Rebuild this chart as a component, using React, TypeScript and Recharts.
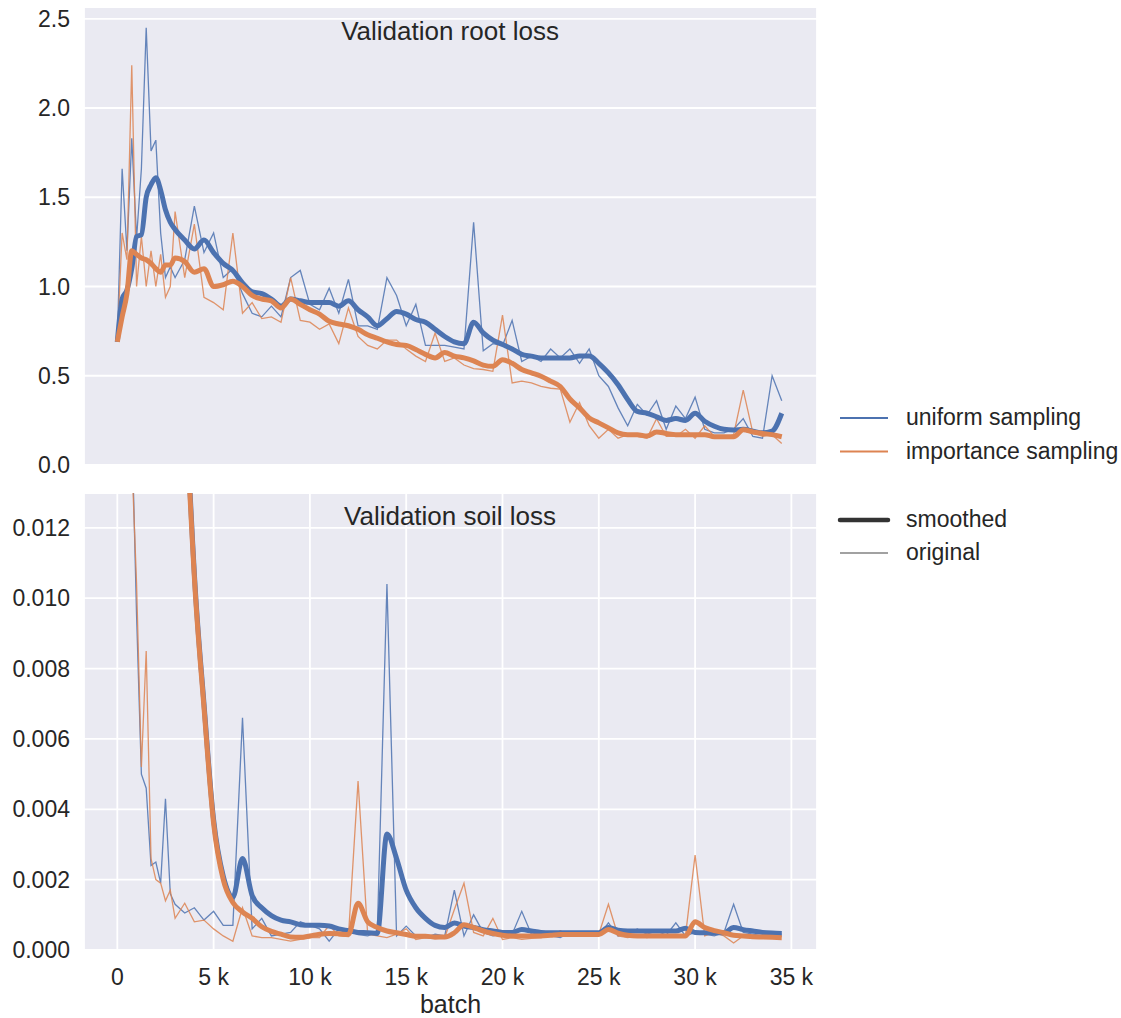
import React from 'react';
import { LineChart, Line, XAxis, YAxis, CartesianGrid, Label } from 'recharts';

const batches = [
  0, 250, 500, 750, 1000, 1250, 1500, 1750, 2000, 2250, 2500, 2750, 3000,
  3500, 4000, 4500, 5000, 5500, 6000, 6500, 7000, 7500, 8000, 8500, 9000, 9500,
  10000, 10500, 11000, 11500, 12000, 12500, 13000, 13500, 14000, 14500, 15000, 15500,
  16000, 16500, 17000, 17500, 18000, 18500, 19000, 19500, 20000, 20500, 21000, 21500,
  22000, 22500, 23000, 23500, 24000, 24500, 25000, 25500, 26000, 26500, 27000, 27500,
  28000, 28500, 29000, 29500, 30000, 30500, 31000, 31500, 32000, 32500, 33000, 33500, 34000, 34500,
];

const rootUniform = [
  0.70, 1.66, 1.20, 1.83, 1.27, 1.66, 2.45, 1.76, 1.82, 1.30, 1.05, 1.11, 1.05,
  1.15, 1.45, 1.19, 1.30, 1.05, 1.10, 0.96, 0.85, 0.83, 0.89, 0.83, 1.05, 1.09,
  0.90, 0.87, 0.99, 0.85, 1.04, 0.78, 0.78, 0.76, 1.05, 0.95, 0.78, 0.90,
  0.67, 0.67, 0.67, 0.66, 0.65, 1.36, 0.64, 0.68, 0.67, 0.81, 0.58, 0.61,
  0.58, 0.65, 0.60, 0.65, 0.57, 0.65, 0.50, 0.44, 0.32, 0.22, 0.34, 0.28,
  0.36, 0.20, 0.33, 0.26, 0.38, 0.20, 0.18, 0.18, 0.20, 0.26, 0.16, 0.15, 0.50, 0.36,
];
const rootUniformSmooth = [
  0.69, 0.93, 0.98, 1.10, 1.28, 1.29, 1.50, 1.57, 1.61, 1.54, 1.43, 1.36, 1.32,
  1.26, 1.21, 1.26, 1.19, 1.13, 1.09, 1.02, 0.97, 0.96, 0.93, 0.89, 0.93, 0.92,
  0.91, 0.91, 0.91, 0.89, 0.92, 0.87, 0.83, 0.78, 0.82, 0.86, 0.845, 0.815,
  0.80, 0.76, 0.72, 0.69, 0.68, 0.80, 0.74, 0.70, 0.675, 0.65, 0.62, 0.61,
  0.60, 0.60, 0.60, 0.60, 0.61, 0.61, 0.57, 0.516, 0.45, 0.367, 0.30, 0.29,
  0.27, 0.25, 0.26, 0.25, 0.29, 0.245, 0.217, 0.20, 0.196, 0.20, 0.19, 0.18, 0.19, 0.29,
];
const rootImportance = [
  0.70, 1.30, 1.15, 2.24, 1.00, 1.28, 1.00, 1.20, 1.00, 1.18, 0.94, 1.00, 1.42,
  1.05, 1.35, 0.94, 0.91, 0.87, 1.30, 0.85, 0.91, 0.82, 0.83, 0.80, 1.05, 0.81,
  0.80, 0.76, 0.79, 0.68, 0.88, 0.72, 0.67, 0.65, 0.70, 0.70, 0.65, 0.61,
  0.58, 0.74, 0.58, 0.60, 0.56, 0.54, 0.535, 0.525, 0.84, 0.46, 0.47, 0.46,
  0.44, 0.43, 0.425, 0.24, 0.35, 0.22, 0.15, 0.20, 0.15, 0.17, 0.16, 0.15,
  0.26, 0.16, 0.16, 0.20, 0.15, 0.22, 0.16, 0.15, 0.17, 0.42, 0.18, 0.16, 0.17, 0.12,
];
const rootImportanceSmooth = [
  0.69, 0.83, 0.96, 1.20, 1.18, 1.16, 1.15, 1.13, 1.10, 1.08, 1.12, 1.12, 1.16,
  1.14, 1.08, 1.10, 1.00, 1.01, 1.03, 1.00, 0.95, 0.93, 0.92, 0.88, 0.93, 0.90,
  0.87, 0.845, 0.805, 0.79, 0.78, 0.76, 0.73, 0.71, 0.69, 0.675, 0.67, 0.647,
  0.62, 0.60, 0.63, 0.61, 0.60, 0.583, 0.56, 0.553, 0.59, 0.57, 0.535, 0.516,
  0.497, 0.47, 0.44, 0.37, 0.32, 0.264, 0.236, 0.208, 0.18, 0.17, 0.17, 0.162,
  0.185, 0.177, 0.17, 0.17, 0.17, 0.17, 0.158, 0.158, 0.158, 0.198, 0.185, 0.177, 0.17, 0.158,
];

const soilUniform = [
  0.09, 0.05, 0.025, 0.015, 0.0095, 0.005, 0.0046, 0.0024, 0.0025, 0.0019, 0.0043, 0.0016, 0.0013,
  0.00105, 0.0012, 0.00085, 0.0011, 0.0007, 0.0007, 0.0066, 0.0006, 0.0009, 0.0004, 0.00045, 0.0005, 0.0008,
  0.0007, 0.0006, 0.00025, 0.0006, 0.00055, 0.00044, 0.0004, 0.0005, 0.0104, 0.0004, 0.00068, 0.0004,
  0.00035, 0.00045, 0.0004, 0.0017, 0.0004, 0.001, 0.0005, 0.0004, 0.00045, 0.00045, 0.0011, 0.00045,
  0.0004, 0.0004, 0.00035, 0.0005, 0.0004, 0.00045, 0.0004, 0.00077, 0.0004, 0.00045, 0.0006, 0.00045,
  0.00055, 0.00042, 0.00077, 0.0004, 0.0005, 0.00045, 0.0004, 0.0005, 0.0013, 0.0005, 0.00045, 0.0004, 0.00045, 0.00045,
];
const soilUniformSmooth = [
  0.25, 0.22, 0.19, 0.16, 0.135, 0.11, 0.09, 0.075, 0.062, 0.05, 0.041, 0.033, 0.027,
  0.0167, 0.0107, 0.007, 0.0037, 0.0021, 0.0015, 0.0026, 0.00155, 0.0012, 0.00098, 0.00085, 0.0008, 0.00072,
  0.0007, 0.0007, 0.00068, 0.0006, 0.00055, 0.0005, 0.00049, 0.00047, 0.0033, 0.0026, 0.0017, 0.0012,
  0.0009, 0.0007, 0.00064, 0.00077, 0.00068, 0.00064, 0.00058, 0.00054, 0.0005, 0.0005, 0.00058, 0.00054,
  0.0005, 0.00049, 0.00049, 0.00049, 0.00049, 0.00049, 0.00049, 0.00064, 0.00056, 0.00054, 0.00054, 0.00054,
  0.00054, 0.00054, 0.00054, 0.00062, 0.0005, 0.00049, 0.00049, 0.00049, 0.00064, 0.00058, 0.00054, 0.0005, 0.00048, 0.00047,
];
const soilImportance = [
  0.09, 0.05, 0.025, 0.014, 0.0104, 0.0052, 0.0085, 0.0026, 0.002, 0.0019, 0.0014, 0.0017, 0.0009,
  0.00133, 0.0008, 0.00085, 0.0006, 0.0004, 0.00025, 0.0012, 0.0004, 0.00035, 0.00035, 0.0003, 0.00025, 0.0003,
  0.00035, 0.00035, 0.0007, 0.0004, 0.00038, 0.0048, 0.00045, 0.0004, 0.00035, 0.00045, 0.0006, 0.0003,
  0.00035, 0.00032, 0.00035, 0.00115, 0.0019, 0.0005, 0.0004, 0.0009, 0.0003, 0.00035, 0.0003, 0.00033,
  0.00035, 0.0004, 0.00055, 0.0004, 0.0004, 0.0004, 0.00045, 0.0013, 0.0004, 0.00035, 0.0004, 0.00035,
  0.0004, 0.00038, 0.0004, 0.0004, 0.0027, 0.0004, 0.0005, 0.0004, 0.0002, 0.0004, 0.00035, 0.0004, 0.0004, 0.00038,
];
const soilImportanceSmooth = [
  0.25, 0.22, 0.19, 0.16, 0.135, 0.11, 0.09, 0.075, 0.062, 0.05, 0.041, 0.033, 0.027,
  0.0165, 0.0106, 0.0069, 0.0036, 0.002, 0.00135, 0.00108, 0.0009, 0.00066, 0.00053, 0.00045, 0.00037, 0.00036,
  0.0004, 0.00045, 0.00047, 0.00046, 0.00044, 0.00133, 0.0008, 0.00064, 0.00054, 0.00049, 0.00044, 0.00039,
  0.00039, 0.00037, 0.00037, 0.00049, 0.00072, 0.00064, 0.00054, 0.00047, 0.00042, 0.0004, 0.0004, 0.0004,
  0.0004, 0.00042, 0.00044, 0.00044, 0.00044, 0.00044, 0.00044, 0.00058, 0.00048, 0.00042, 0.0004, 0.0004,
  0.0004, 0.0004, 0.0004, 0.0004, 0.0008, 0.00064, 0.00055, 0.00049, 0.00042, 0.0004, 0.00038, 0.00037, 0.00036, 0.00035,
];

const xTicks = [0, 5000, 10000, 15000, 20000, 25000, 30000, 35000];
const rootTicks = [0, 0.5, 1.0, 1.5, 2.0, 2.5];
const soilTicks = [0, 0.002, 0.004, 0.006, 0.008, 0.01, 0.012];
const seriesNames = ['uniform sampling', 'importance sampling'];
const styleNames = ['smoothed', 'original'];

const FONT = '"Liberation Sans", Arial, Helvetica, sans-serif';
const BLUE = '#4C72B0';
const ORANGE = '#DD8452';
const BG = '#EAEAF2';
const TEXT = '#262626';

const X_DOMAIN: [number, number] = [-1730, 36330];

const rootData = batches.map((b, i) => ({
  batch: b,
  uni: rootUniform[i],
  uniS: rootUniformSmooth[i],
  imp: rootImportance[i],
  impS: rootImportanceSmooth[i],
}));
const soilData = batches.map((b, i) => ({
  batch: b,
  uni: soilUniform[i],
  uniS: soilUniformSmooth[i],
  imp: soilImportance[i],
  impS: soilImportanceSmooth[i],
}));

const tickStyle = { fill: TEXT, fontSize: 23, fontFamily: FONT };

function seriesLines() {
  return [
    <Line key="u" type="linear" dataKey="uni" stroke={BLUE} strokeWidth={1.3} strokeOpacity={0.85} dot={false} isAnimationActive={false} />,
    <Line key="i" type="linear" dataKey="imp" stroke={ORANGE} strokeWidth={1.3} strokeOpacity={0.85} dot={false} isAnimationActive={false} />,
    <Line key="us" type="monotone" dataKey="uniS" stroke={BLUE} strokeWidth={5} strokeLinejoin="round" dot={false} isAnimationActive={false} />,
    <Line key="is" type="monotone" dataKey="impS" stroke={ORANGE} strokeWidth={5} strokeLinejoin="round" dot={false} isAnimationActive={false} />,
  ];
}

const xFmt = (v: number) => (v === 0 ? '0' : `${v / 1000} k`);

export default function App() {
  return (
    <div style={{ position: 'absolute', left: 0, top: 0, width: 1121, height: 1018, background: '#fff', fontFamily: FONT }}>
      <div style={{ position: 'absolute', left: 0, top: 0 }}>
        <LineChart width={1121} height={480} data={rootData} margin={{ top: 7, right: 304, bottom: 0, left: 0 }}>
          <CartesianGrid fill={BG} fillOpacity={1} stroke="#ffffff" strokeWidth={1.8} />
          <XAxis type="number" dataKey="batch" domain={X_DOMAIN} ticks={xTicks} interval={0} allowDataOverflow height={15}
            tick={false} axisLine={false} tickLine={false} />
          <YAxis type="number" domain={[0, 2.566]} ticks={rootTicks} interval={0} allowDataOverflow width={84}
            axisLine={false} tickLine={false} tickSize={0} tickMargin={14}
            tickFormatter={(v: number) => v.toFixed(1)} tick={tickStyle} />
          {seriesLines()}
        </LineChart>
      </div>
      <div style={{ position: 'absolute', left: 0, top: 480 }}>
        <LineChart width={1121} height={538} data={soilData} margin={{ top: 13, right: 304, bottom: 0, left: 0 }}>
          <CartesianGrid fill={BG} fillOpacity={1} stroke="#ffffff" strokeWidth={1.8} />
          <XAxis type="number" dataKey="batch" domain={X_DOMAIN} ticks={xTicks} interval={0} allowDataOverflow height={68}
            axisLine={false} tickLine={false} tickSize={0} tickMargin={19} tickFormatter={xFmt} tick={tickStyle}>
            <Label value="batch" position="insideBottom" offset={5} fill={TEXT} fontSize={25} fontFamily={FONT} />
          </XAxis>
          <YAxis type="number" domain={[0, 0.01299]} ticks={soilTicks} interval={0} allowDataOverflow width={84}
            axisLine={false} tickLine={false} tickSize={0} tickMargin={14}
            tickFormatter={(v: number) => v.toFixed(3)} tick={tickStyle} />
          {seriesLines()}
        </LineChart>
      </div>
      <svg width={1121} height={1018} style={{ position: 'absolute', left: 0, top: 0, pointerEvents: 'none' }}>
        <text x={450} y={40} textAnchor="middle" fontSize={26} fontFamily={FONT} fill={TEXT}>Validation root loss</text>
        <text x={450} y={525} textAnchor="middle" fontSize={26} fontFamily={FONT} fill={TEXT}>Validation soil loss</text>
        <line x1={840} x2={888} y1={418} y2={418} stroke={BLUE} strokeWidth={2} />
        <text x={906} y={425} fontSize={23} fontFamily={FONT} fill={TEXT}>{seriesNames[0]}</text>
        <line x1={840} x2={888} y1={451.5} y2={451.5} stroke={ORANGE} strokeWidth={2} />
        <text x={906} y={458.5} fontSize={23} fontFamily={FONT} fill={TEXT}>{seriesNames[1]}</text>
        <line x1={840} x2={888} y1={520} y2={520} stroke="#333333" strokeWidth={4.5} strokeLinecap="round" />
        <text x={906} y={527} fontSize={23} fontFamily={FONT} fill={TEXT}>{styleNames[0]}</text>
        <line x1={840} x2={888} y1={553} y2={553} stroke="#444444" strokeWidth={1.2} />
        <text x={906} y={560} fontSize={23} fontFamily={FONT} fill={TEXT}>{styleNames[1]}</text>
      </svg>
    </div>
  );
}
